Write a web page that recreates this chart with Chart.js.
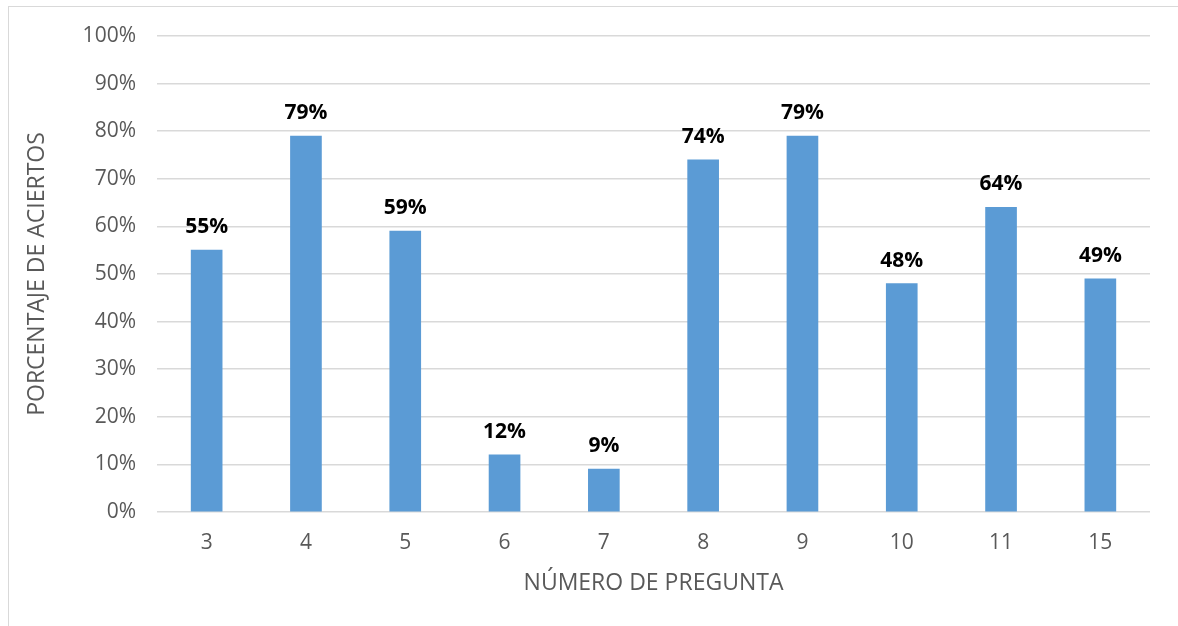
<!doctype html>
<html lang="es">
  <head>
    <meta charset="utf-8">
    <title>Porcentaje de aciertos</title>
    <script src="https://cdn.jsdelivr.net/npm/chart.js@4.4.0/dist/chart.umd.min.js"></script>
    <style>
      body { margin: 0; background: #fff; }
      #wrap { position: relative; width: 1178px; height: 626px; overflow: hidden; }
      #frame { position: absolute; left: 8px; top: 6px; width: 1200px; height: 700px; border: 1px solid #d9d9d9; box-sizing: border-box; }
      #myChart { position: absolute; left: 0; top: 0; }
    </style>
  </head>
  <body>
    <div id="wrap">
      <div id="frame"></div>
      <canvas id="myChart" width="1178" height="626"></canvas>
    </div>

<script>
const preguntas = ['3', '4', '5', '6', '7', '8', '9', '10', '11', '15'];
const aciertos = [55, 79, 59, 12, 9, 74, 79, 48, 64, 49];

const greyText = '#595959';
const gridGrey = '#d9d9d9';

// labels on top of each bar
const barLabels = {
    id: 'barLabels',
    afterDatasetsDraw(chart) {
        const ctx = chart.ctx;
        ctx.save();
        ctx.font = 'bold 21px "Open Sans"';
        ctx.fillStyle = '#000';
        ctx.textAlign = 'center';
        ctx.textBaseline = 'alphabetic';
        chart.getDatasetMeta(0).data.forEach((bar, i) => {
            ctx.fillText(aciertos[i] + '%', bar.x, bar.y - 17);
        });
        ctx.restore();
    }
};

const config = {
    type: 'bar',
    data: {
        labels: preguntas,
        datasets: [{
            data: aciertos,
            backgroundColor: '#5b9bd5',
            barThickness: 31,
        }]
    },
    options: {
        responsive: false,
        animation: false,
        layout: {
            padding: { left: 0, right: 28, top: 36, bottom: 0 }
        },
        scales: {
            x: {
                grid: { display: false, drawTicks: false },
                border: { display: false },
                ticks: {
                    color: greyText,
                    font: { family: 'Open Sans', size: 21 },
                    padding: 18
                },
                title: {
                    display: true,
                    text: 'NÚMERO DE PREGUNTA',
                    color: greyText,
                    font: { family: 'Open Sans', size: 23 },
                    padding: { top: 0, bottom: 29 }
                },
                afterFit: scale => { scale.height = 114; }
            },
            y: {
                min: 0,
                max: 100,
                grid: { color: gridGrey, lineWidth: 1.5, drawTicks: false },
                border: { display: false },
                ticks: {
                    stepSize: 10,
                    color: greyText,
                    font: { family: 'Open Sans', size: 21 },
                    padding: 21,
                    callback: v => v + '%'
                },
                title: {
                    display: true,
                    text: 'PORCENTAJE DE ACIERTOS',
                    color: greyText,
                    font: { family: 'Open Sans', size: 23 },
                    padding: { top: 24 }
                },
                afterFit: scale => { scale.width = 157; }
            }
        },
        plugins: {
            legend: { display: false },
            tooltip: { enabled: false }
        }
    },
    plugins: [barLabels]
};

const myChart = new Chart(document.getElementById('myChart'), config);
</script>
  </body>
</html>
